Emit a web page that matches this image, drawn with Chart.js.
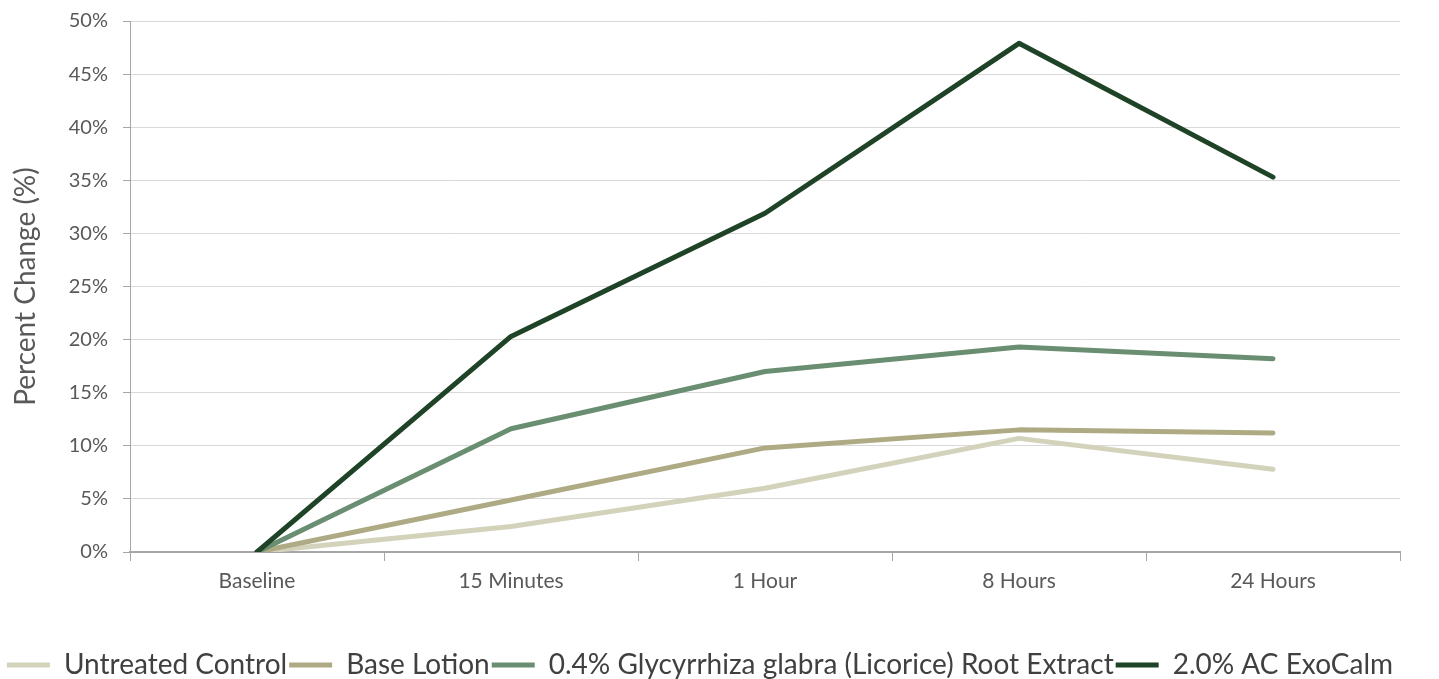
<!DOCTYPE html>
<html>
<head>
<meta charset="utf-8">
<script src="https://cdn.jsdelivr.net/npm/chart.js@4/dist/chart.umd.min.js"></script>
<style>
  html, body { margin: 0; padding: 0; background: #ffffff; }
  #wrap { width: 1439px; height: 679px; position: relative; }
</style>
</head>
<body>
<div id="wrap"><canvas id="c"></canvas></div>
<script>
const categories = ["Baseline", "15 Minutes", "1 Hour", "8 Hours", "24 Hours"];
const seriesNames = ["Untreated Control", "Base Lotion", "0.4% Glycyrrhiza glabra (Licorice) Root Extract", "2.0% AC ExoCalm"];
const untreatedControl = [0, 2.4, 6.0, 10.7, 7.8];
const baseLotion = [0, 4.9, 9.8, 11.5, 11.2];
const licoriceExtract = [0, 11.6, 17.0, 19.3, 18.2];
const acExoCalm = [0, 20.3, 31.9, 47.9, 35.3];
const yTicks = [0, 5, 10, 15, 20, 25, 30, 35, 40, 45, 50];

const colors = ["#d3d3bc", "#aeab84", "#6a8e71", "#1f4326"];
const allValues = [untreatedControl, baseLotion, licoriceExtract, acExoCalm];
const drawOrder = [3, 2, 1, 0];

const datasets = allValues.map((vals, i) => ({
  label: seriesNames[i],
  data: vals,
  borderColor: colors[i],
  backgroundColor: colors[i],
  borderWidth: 5,
  pointRadius: 0,
  pointHoverRadius: 0,
  tension: 0,
  borderCapStyle: 'round',
  borderJoinStyle: 'round',
  order: drawOrder[i]
}));

new Chart(document.getElementById('c'), {
  type: 'line',
  data: { labels: categories, datasets },
  options: {
    responsive: true,
    maintainAspectRatio: false,
    animation: false,
    layout: { padding: { left: 0, right: 39, top: 21, bottom: -10 } },
    plugins: {
      tooltip: { enabled: false },
      legend: {
        position: 'bottom',
        align: 'center',
        labels: {
          font: { family: 'Lato', size: 28 },
          color: '#404040',
          boxWidth: 43,
          boxHeight: 5,
          padding: 2,
          sort: (a, b) => a.datasetIndex - b.datasetIndex,
          generateLabels: (chart) => chart.data.datasets.map((ds, i) => ({
            text: ds.label,
            fillStyle: ds.borderColor,
            strokeStyle: ds.borderColor,
            lineWidth: 0,
            hidden: false,
            datasetIndex: i,
            fontColor: '#404040'
          }))
        }
      }
    },
    scales: {
      x: {
        offset: true,
        grid: {
          offset: true,
          drawOnChartArea: false,
          drawTicks: true,
          tickLength: 9,
          color: '#a6a6a6',
          lineWidth: 1
        },
        border: { color: '#a6a6a6', width: 2 },
        ticks: {
          font: { family: 'Lato', size: 21 },
          color: '#595959',
          padding: 8,
          maxRotation: 0
        },
        afterFit: (s) => { s.height = 97; }
      },
      y: {
        min: 0,
        max: 50,
        afterBuildTicks: (s) => { s.ticks = yTicks.map(v => ({ value: v })); },
        grid: {
          color: '#d9d9d9',
          lineWidth: 1,
          tickLength: 7,
          tickColor: '#a6a6a6'
        },
        border: { color: '#a6a6a6', width: 1 },
        ticks: {
          font: { family: 'Lato', size: 20 },
          color: '#595959',
          padding: 15,
          callback: (v) => v + '%'
        },
        title: {
          display: true,
          text: 'Percent Change (%)',
          font: { family: 'Lato', size: 28 },
          color: '#595959',
          padding: { top: 9, bottom: 8 }
        },
        afterFit: (s) => { s.width = 130; s.paddingTop = 0; s.paddingBottom = 0; }
      }
    }
  }
});
</script>
</body>
</html>
